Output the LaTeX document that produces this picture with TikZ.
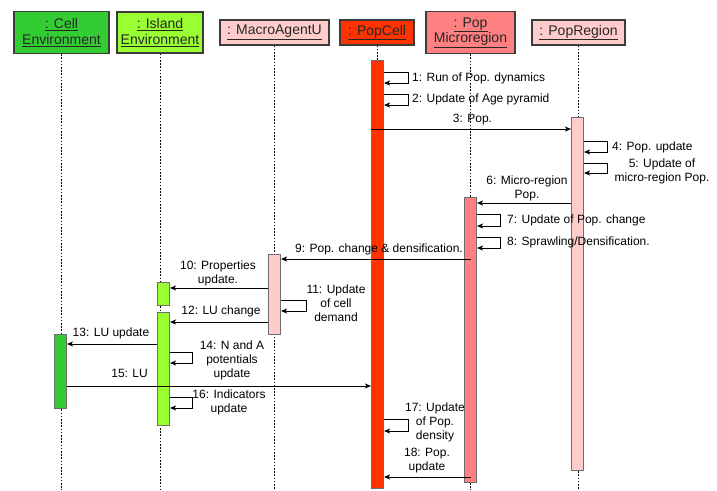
\documentclass[tikz,border=0pt]{standalone}
\usepackage{fontspec}
\setmainfont{Liberation Sans}
\usetikzlibrary{arrows.meta}
\definecolor{cell-green}{RGB}{51,204,51}
\definecolor{island-green}{RGB}{153,255,51}
\definecolor{lt-pink}{RGB}{255,204,204}
\definecolor{pop-red}{RGB}{255,51,0}
\definecolor{micro-red}{RGB}{255,128,128}
\definecolor{box-gray}{RGB}{60,60,60}
\tikzset{
	head/.style={draw=box-gray, line width=1.2pt, align=center, inner sep=0pt, text=black!85, font=\fontsize{14}{15.5}\selectfont},
	bar/.style={draw=box-gray!75, line width=1pt, inner sep=0pt, minimum width=12pt, anchor=north},
	lifeline/.style={dash pattern=on 1.6pt off 1.6pt, line width=0.9pt},
	msg/.style={line width=1pt, -{Stealth[length=6pt,width=5pt,inset=1.5pt]}},
	lbl/.style={inner sep=0pt, align=center, font=\fontsize{12}{14}\selectfont},
}
%header box: name, x, width, height, colour, text
\newcommand{\Head}[6]{
	\node[head, fill=#5, minimum width=#3pt, minimum height=#4pt] (#1) at (#2,32.5) {#6};
	\draw[lifeline] (#1.south) -- (#1.south |- 0,490);
}
%activation bar: name, x, top, bottom, colour
\newcommand{\Bar}[5]{
	\pgfmathsetmacro\barlen{#4-#3}
	\node[bar, fill=#5, minimum height=\barlen pt] (#1) at (#2,#3) {};
}
%call to itself: bar, top, bottom, right
\newcommand{\Self}[4]{
	\draw[msg] (#1.east |- 0,#2) -- (#4,#2) -- (#4,#3) -- (#1.east |- 0,#3);
}

\begin{document}
\begin{tikzpicture}[x=1pt,y=-1pt]
	\useasboundingbox (0,0) rectangle (717,490);

	%headers and lifelines
	\Head{cellenv}{61.5}{95}{42}{cell-green}{\underline{: Cell}\\\underline{Environment}}
	\Head{islandenv}{160}{86}{41}{island-green}{\underline{: Island}\\\underline{Environment}}
	\Head{macroagent}{274.5}{109}{25}{lt-pink}{\underline{: MacroAgentU}}
	\Head{popcell}{377}{74}{25}{pop-red}{\underline{: PopCell}}
	\Head{popmicro}{470.5}{89}{42}{micro-red}{\underline{: Pop}\\\underline{Microregion}}
	\Head{popregion}{578.5}{93}{25}{lt-pink}{\underline{: PopRegion}}

	%activation bars
	\Bar{cellbar}{60.5}{334}{408}{cell-green}
	\Bar{islandbarA}{163.5}{282}{305}{island-green}
	\Bar{islandbarB}{163.5}{312}{425}{island-green}
	\Bar{macrobar}{274.5}{254}{334}{lt-pink}
	\Bar{popbar}{377.5}{60}{488}{pop-red}
	\Bar{microbar}{470.5}{197}{482}{micro-red}
	\Bar{regionbar}{577.5}{117}{470}{lt-pink}

	%calls to itself
	\foreach \b/\t/\d/\r in {popbar/72/83/408, popbar/94/105/408, regionbar/141/152/607,
		regionbar/163/173/607, microbar/214/226/500, microbar/237/248/500,
		macrobar/300/311/306, islandbarB/352/363/192, islandbarB/397/408/192, popbar/419/431/408}{
		\Self{\b}{\t}{\d}{\r}
	}

	%messages
	\draw[msg] (popbar.west |- 0,129) -- (regionbar.west |- 0,129);
	\draw[msg] (regionbar.west |- 0,203) -- (microbar.east |- 0,203);
	\draw[msg] (microbar.center |- 0,259) -- (macrobar.east |- 0,259);
	\draw[msg] (macrobar.west |- 0,288) -- (islandbarA.east |- 0,288);
	\draw[msg] (macrobar.west |- 0,322) -- (islandbarB.east |- 0,322);
	\draw[msg] (islandbarB.west |- 0,344) -- (cellbar.east |- 0,344);
	\draw[msg] (cellbar.east |- 0,386) -- (popbar.west |- 0,386);
	\draw[msg] (microbar.center |- 0,477) -- (popbar.east |- 0,477);

	%labels
	\node[lbl, anchor=west] (m1) at (412,78) {1: Run of Pop. dynamics};
	\node[lbl, anchor=west] (m2) at (412,99) {2: Update of Age pyramid};
	\node[lbl] (m3) at (472.5,120) {3: Pop.};
	\node[lbl, anchor=west] (m4) at (612,147) {4: Pop. update};
	\node[lbl] (m5) at (662,171) {5: Update of\\micro-region Pop.};
	\node[lbl] (m6) at (527,188) {6: Micro-region\\Pop.};
	\node[lbl, anchor=west] (m7) at (507,220) {7: Update of Pop. change};
	\node[lbl, anchor=west] (m8) at (507,242) {8: Sprawling/Densification.};
	\node[lbl, anchor=east] (m9) at (463,249) {9: Pop. change \& densification.};
	\node[lbl] (m10) at (218,273) {10: Properties\\update.};
	\node[lbl] (m11) at (336,303) {11: Update\\of cell\\demand};
	\node[lbl] (m12) at (221,311) {12: LU change};
	\node[lbl] (m13) at (111,333) {13: LU update};
	\node[lbl] (m14) at (232,360) {14: N and A\\potentials\\update};
	\node[lbl, anchor=east] (m15) at (148,373) {15: LU};
	\node[lbl] (m16) at (229,402) {16: Indicators\\update};
	\node[lbl] (m17) at (435,422.5) {17: Update\\of Pop.\\density};
	\node[lbl] (m18) at (427,461) {18: Pop.\\update};

\end{tikzpicture}
\end{document}
